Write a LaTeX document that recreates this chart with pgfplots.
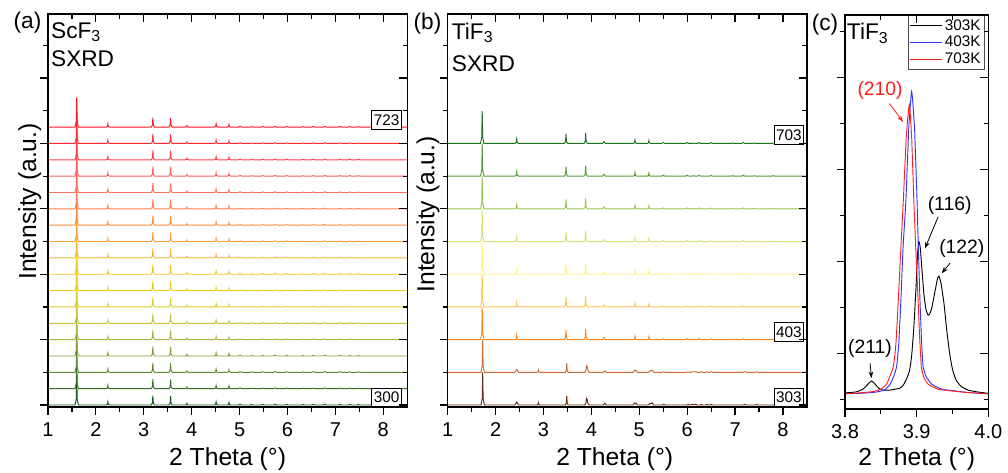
\documentclass[border=0pt]{standalone}
\usepackage{fontspec}
\setmainfont{Liberation Sans}
\usepackage{pgfplots}
\usepackage{pgfplotstable}
\pgfplotsset{compat=1.18}
\usetikzlibrary{arrows.meta}

% ScF3 colours, bottom (300) to top (723)
\definecolor{sc0}{RGB}{20,90,20}
\definecolor{sc1}{RGB}{50,115,35}
\definecolor{sc2}{RGB}{90,140,45}
\definecolor{sc3}{RGB}{130,160,55}
\definecolor{sc4}{RGB}{170,180,60}
\definecolor{sc5}{RGB}{200,195,55}
\definecolor{sc6}{RGB}{225,205,40}
\definecolor{sc7}{RGB}{240,205,20}
\definecolor{sc8}{RGB}{245,195,30}
\definecolor{sc9}{RGB}{248,180,60}
\definecolor{sc10}{RGB}{250,160,60}
\definecolor{sc11}{RGB}{252,140,60}
\definecolor{sc12}{RGB}{253,125,80}
\definecolor{sc13}{RGB}{254,110,90}
\definecolor{sc14}{RGB}{255,90,90}
\definecolor{sc15}{RGB}{255,60,70}
\definecolor{sc16}{RGB}{255,40,50}
\definecolor{sc17}{RGB}{255,20,30}
% TiF3 colours, bottom (303) to top (703)
\definecolor{ti0}{RGB}{100,45,15}
\definecolor{ti1}{RGB}{200,110,50}
\definecolor{ti2}{RGB}{255,135,25}
\definecolor{ti3}{RGB}{255,195,80}
\definecolor{ti4}{RGB}{255,240,120}
\definecolor{ti5}{RGB}{210,225,120}
\definecolor{ti6}{RGB}{155,195,80}
\definecolor{ti7}{RGB}{85,155,55}
\definecolor{ti8}{RGB}{30,110,30}
\definecolor{cblue}{RGB}{50,50,255}
\definecolor{cred}{RGB}{255,30,30}

\pgfplotstableread{
x I
1.0 0
1.565 0
1.59 0.18
1.60 0.92
1.61 0.18
1.635 0
2.215 0
2.24 0.02
2.25 0.10
2.26 0.02
2.285 0
3.155 0
3.18 0.06
3.19 0.29
3.20 0.06
3.225 0
3.525 0
3.55 0.056
3.56 0.28
3.57 0.056
3.595 0
3.865 0
3.89 0.01
3.90 0.05
3.91 0.01
3.935 0
4.475 0
4.50 0.02
4.51 0.10
4.52 0.02
4.545 0
4.745 0
4.77 0.016
4.78 0.08
4.79 0.016
4.815 0
4.98 0
5.01 0.025
5.04 0
5.22 0
5.25 0.015
5.28 0
5.46 0
5.49 0.02
5.52 0
5.71 0
5.74 0.025
5.77 0
5.96 0
5.99 0.02
6.02 0
6.30 0
6.33 0.015
6.36 0
6.51 0
6.54 0.02
6.57 0
6.75 0
6.78 0.025
6.81 0
7.07 0
7.10 0.02
7.13 0
7.27 0
7.30 0.02
7.33 0
7.45 0
7.48 0.015
7.51 0
8.5 0
}\scfdata

\pgfplotstableread{
x I
1.0 0
1.685 0
1.71 0.2
1.72 0.99
1.73 0.2
1.755 0
2.405 0
2.43 0.026
2.44 0.13
2.45 0.026
2.475 0
3.435 0
3.46 0.058
3.47 0.29
3.48 0.058
3.505 0
3.845 0
3.87 0.064
3.88 0.32
3.89 0.064
3.915 0
4.23 0
4.26 0.06
4.29 0
4.875 0
4.90 0.022
4.91 0.11
4.92 0.022
4.945 0
5.165 0
5.19 0.018
5.20 0.09
5.21 0.018
5.235 0
5.47 0
5.50 0.03
5.53 0
5.97 0
6.00 0.03
6.03 0
6.10 0
6.13 0.015
6.16 0
6.22 0
6.25 0.03
6.28 0
6.47 0
6.50 0.025
6.53 0
6.92 0
6.95 0.015
6.98 0
7.14 0
7.17 0.03
7.20 0
7.37 0
7.40 0.015
7.43 0
7.77 0
7.80 0.015
7.83 0
8.5 0
}\tifhigh

\pgfplotstableread{
x I
1.0 0
1.695 0
1.72 0.2
1.73 1.0
1.74 0.2
1.765 0
2.40 0
2.425 0.05
2.44 0.09
2.455 0.06
2.48 0
2.86 0
2.885 0.015
2.895 0.07
2.905 0.015
2.93 0
3.455 0
3.475 0.056
3.485 0.28
3.495 0.056
3.515 0
3.86 0
3.885 0.06
3.895 0.19
3.905 0.14
3.915 0.16
3.925 0.06
3.95 0
4.25 0
4.28 0.055
4.31 0
4.87 0
4.90 0.06
4.915 0.04
4.93 0.06
4.96 0
5.19 0
5.22 0.05
5.24 0.04
5.27 0.07
5.30 0
5.48 0
5.51 0.02
5.54 0
5.99 0
6.02 0.015
6.05 0
6.07 0
6.10 0.02
6.14 0.01
6.18 0.02
6.21 0
6.27 0
6.30 0.015
6.33 0
6.39 0
6.42 0.015
6.45 0
6.47 0
6.50 0.02
6.53 0
7.17 0
7.20 0.02
7.23 0
7.42 0
7.45 0.015
7.48 0
8.5 0
}\tiflow

\tikzset{
  lab/.style={draw=black, line width=0.5pt, fill=white, font=\fontsize{11.5}{12}\selectfont, inner xsep=1.5pt, inner ysep=3pt},
  txt/.style={font=\fontsize{17}{19}\selectfont, inner sep=0pt},
  ann/.style={font=\fontsize{14.5}{16}\selectfont, inner sep=0pt},
}

\pgfplotsset{
  myframe/.style={
    scale only axis, anchor=south west,
    axis line style={line width=0.9pt},
    tick style={line width=0.9pt, black},
    major tick length=6pt, minor tick length=3.5pt,
    /pgf/number format/assume math mode=true,
    ticklabel style={font=\fontsize{15}{16}\selectfont},
    xticklabel style={yshift=-2pt},
    label style={font=\fontsize{18.5}{20}\selectfont},
    clip mode=individual,
  },
  mainax/.style={myframe, tick align=outside, xtick pos=left, ytick pos=left, yticklabels={}},
  overax/.style={myframe, tick align=inside, xtick pos=right, ytick pos=right, xticklabels={}, yticklabels={}},
  geomAB/.style={width=269.4pt, height=294.75pt, xmin=1, xmax=8.5, ymin=-0.06, ymax=11.96,
    xtick={1,...,8}, minor x tick num=1, ytick={0,2,...,12}, minor y tick num=1},
  geomA/.style={geomAB, at={(36pt,49.5pt)}},
  geomB/.style={geomAB, at={(335.8pt,49.5pt)}},
  geomC/.style={at={(633.75pt,48pt)}, width=107.5pt, height=295.5pt,
    xmin=3.8, xmax=4.0, ymin=-0.21, ymax=8.354,
    xtick={3.8,3.9,4.0}, minor x tick num=1, ytick={-1,1,...,9}, minor y tick num=1,
    /pgf/number format/fixed, /pgf/number format/fixed zerofill, /pgf/number format/precision=1},
  trace/.style={line width=0.7pt},
}

\begin{document}
\begin{tikzpicture}
\path[use as bounding box] (0,0) rectangle (756pt,354.75pt);

% ---------------- (a) ScF3 ----------------
\begin{axis}[mainax, geomA,
  xlabel={2 Theta (°)}, xlabel style={at={(axis description cs:0.5,-0.132)}, anchor=center},
  ylabel={Intensity (a.u.)}, ylabel style={at={(axis description cs:-0.051,0.523)}, anchor=center}]
\pgfplotsinvokeforeach{0,...,17}{
  \addplot[trace, color=sc#1] table[x=x, y expr=\thisrow{I}+0.5*#1] {\scfdata};
}
\node[lab] at (axis cs:8.07,8.72) {723};
\node[lab] at (axis cs:8.07,0.235) {300};
\node[txt, anchor=base west] at (axis description cs:0.008,0.938) {ScF\textsubscript{3}};
\node[txt, anchor=base west] at (axis description cs:0.008,0.866) {SXRD};
\end{axis}
\begin{axis}[overax, geomA]
\end{axis}

% ---------------- (b) TiF3 ----------------
\begin{axis}[mainax, geomB,
  xlabel={2 Theta (°)}, xlabel style={at={(axis description cs:0.465,-0.132)}, anchor=center},
  ylabel={Intensity (a.u.)}, ylabel style={at={(axis description cs:-0.055,0.49)}, anchor=center}]
\addplot[trace, color=ti0] table[x=x, y expr=\thisrow{I}+0] {\tiflow};
\addplot[trace, color=ti1] table[x=x, y expr=\thisrow{I}+1] {\tiflow};
\pgfplotsinvokeforeach{2,...,8}{
  \addplot[trace, color=ti#1] table[x=x, y expr=\thisrow{I}+#1] {\tifhigh};
}
\node[lab] at (axis cs:8.125,8.26) {703};
\node[lab] at (axis cs:8.125,2.24) {403};
\node[lab] at (axis cs:8.125,0.235) {303};
\node[txt, anchor=base west] at (axis description cs:0.011,0.936) {TiF\textsubscript{3}};
\node[txt, anchor=base west] at (axis description cs:0.011,0.853) {SXRD};
\end{axis}
\begin{axis}[overax, geomB]
\end{axis}

% ---------------- (c) TiF3 zoom ----------------
\begin{axis}[mainax, geomC,
  xlabel={2 Theta (°)}, xlabel style={at={(axis description cs:0.5,-0.127)}, anchor=center},
  legend style={at={(axis description cs:0.977,1)}, anchor=north east, draw=black!70, line width=0.5pt,
    font=\fontsize{11.5}{12}\selectfont, inner sep=1pt, row sep=-1pt, cells={anchor=east}},
  legend image code/.code={\draw[#1, line width=0.6pt] (0cm,0cm) -- (0.84cm,0cm);}]
\addplot[black, line width=0.7pt, smooth, tension=0.3] coordinates {
(3.800,0.14) (3.815,0.16) (3.825,0.22) (3.832,0.33) (3.837,0.40) (3.842,0.33) (3.848,0.23)
(3.853,0.20) (3.862,0.20) (3.870,0.22) (3.876,0.24) (3.881,0.30) (3.886,0.45) (3.890,0.62)
(3.893,0.95) (3.896,1.55) (3.899,2.40) (3.901,3.10) (3.903,3.43) (3.905,3.30) (3.907,2.90)
(3.910,2.30) (3.913,1.95) (3.916,1.83) (3.918,1.85) (3.921,1.98) (3.925,2.30) (3.929,2.62)
(3.931,2.68) (3.934,2.52) (3.938,2.10) (3.942,1.50) (3.946,1.00) (3.950,0.65) (3.955,0.42)
(3.962,0.28) (3.972,0.20) (3.985,0.16) (4.000,0.13)};
\addlegendentry{303K}
\addplot[cblue, line width=0.7pt, smooth, tension=0.3] coordinates {
(3.800,0.12) (3.820,0.13) (3.840,0.15) (3.855,0.20) (3.863,0.33) (3.868,0.50) (3.872,0.71)
(3.875,1.20) (3.878,2.16) (3.881,3.30) (3.885,4.33) (3.889,5.90) (3.893,6.69) (3.897,5.90)
(3.9005,4.33) (3.9025,3.20) (3.9046,2.16) (3.907,1.20) (3.909,0.71) (3.913,0.50) (3.921,0.33)
(3.935,0.22) (3.950,0.19) (3.970,0.15) (4.000,0.12)};
\addlegendentry{403K}
\addplot[cred, line width=0.7pt, smooth, tension=0.3] coordinates {
(3.800,0.12) (3.820,0.14) (3.840,0.17) (3.850,0.22) (3.858,0.33) (3.8674,0.71) (3.871,1.20)
(3.8744,2.16) (3.878,3.30) (3.8814,4.33) (3.8855,5.70) (3.8897,6.40) (3.893,5.70) (3.896,4.33)
(3.899,3.20) (3.902,2.16) (3.904,1.40) (3.9065,0.71) (3.910,0.48) (3.916,0.33) (3.930,0.22)
(3.950,0.18) (3.970,0.15) (4.000,0.12)};
\addlegendentry{703K}
\node[txt, anchor=base west] at (axis description cs:0.012,0.937) {TiF\textsubscript{3}};
\node[ann, text=cred] at (axis cs:3.849,6.72) {(210)};
\draw[cred, line width=0.6pt, -{Stealth[length=5pt,width=3.5pt]}] (axis cs:3.862,6.43) -- (axis cs:3.881,6.03);
\node[ann] at (axis cs:3.946,4.22) {(116)};
\draw[black, line width=0.6pt, -{Stealth[length=5pt,width=3.5pt]}] (axis cs:3.930,3.97) -- (axis cs:3.9116,3.28);
\node[ann] at (axis cs:3.963,3.28) {(122)};
\draw[black, line width=0.6pt, -{Stealth[length=5pt,width=3.5pt]}] (axis cs:3.9465,2.96) -- (axis cs:3.935,2.74);
\node[ann] at (axis cs:3.835,1.11) {(211)};
\draw[black, line width=0.6pt, -{Stealth[length=5pt,width=3.5pt]}] (axis cs:3.835,0.78) -- (axis cs:3.837,0.46);
\end{axis}
\begin{axis}[overax, geomC]
\end{axis}

% panel letters
\node[txt] at (20.6pt,337.9pt) {(a)};
\node[txt] at (320.6pt,336.75pt) {(b)};
\node[txt] at (618.75pt,336pt) {(c)};
\end{tikzpicture}
\end{document}
